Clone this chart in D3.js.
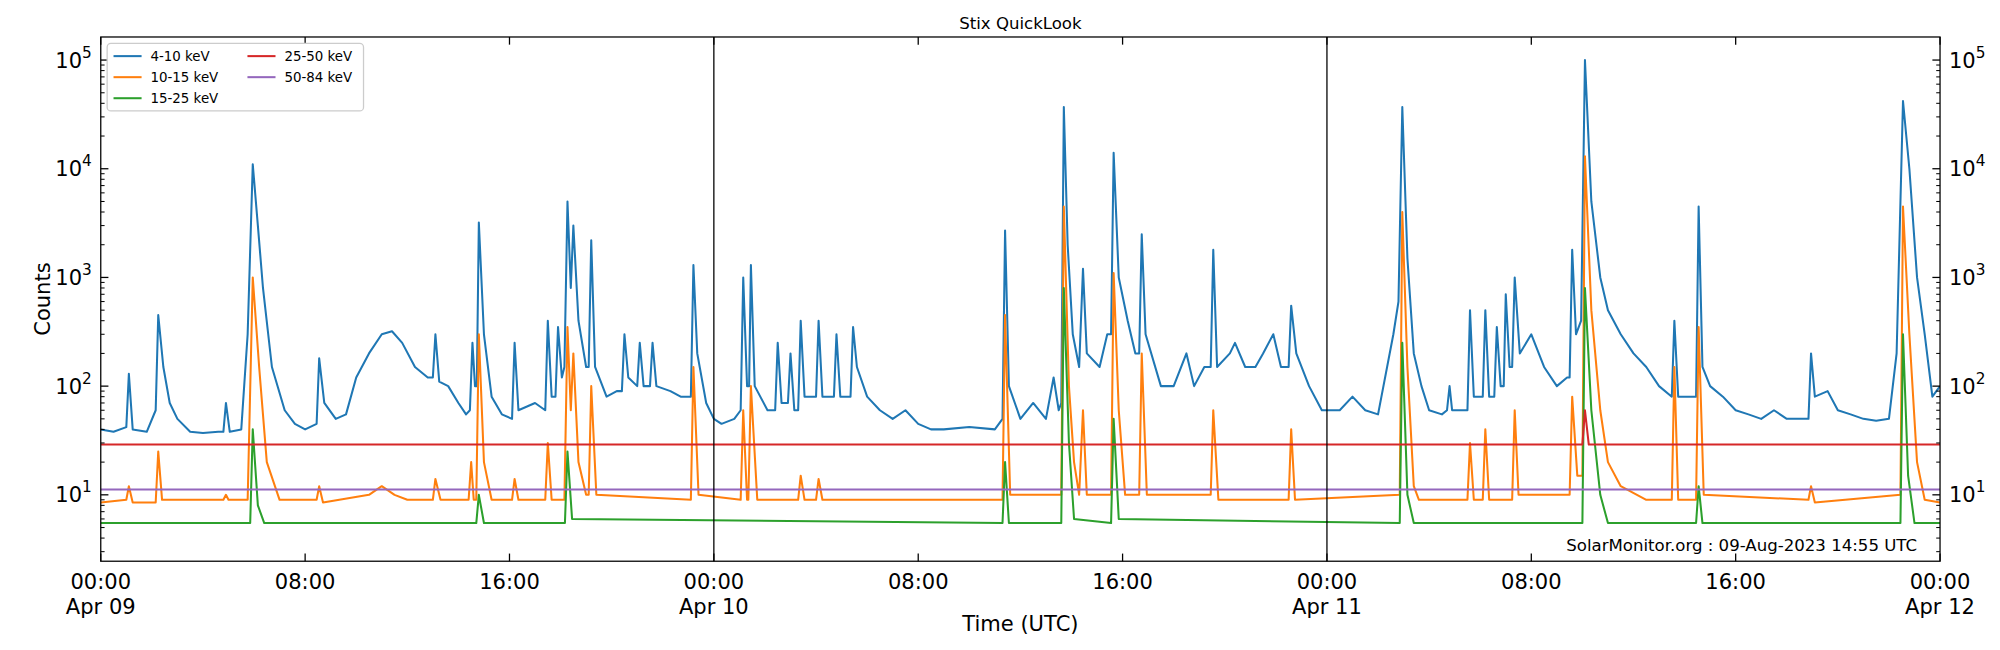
<!DOCTYPE html>
<html><head><meta charset="utf-8">
<script src="https://cdn.jsdelivr.net/npm/d3@7"></script>
<style>body{margin:0;background:#fff;font-family:"DejaVu Sans",sans-serif}</style>
</head><body><svg id="c" width="2000" height="650"></svg>
<script>
// [hours since Apr 09 00:00, counts]
const s4_10 = [[0,40],[0.5,38],[1.0,42],[1.1,130],[1.25,40],[1.8,38],[2.15,60],[2.25,450],[2.45,150],[2.7,70],[3.0,50],[3.5,38],[4.0,37],[4.6,38],[4.8,38],[4.9,70],[5.05,38],[5.5,40],[5.75,300],[5.95,11000],[6.15,3000],[6.35,800],[6.7,150],[7.2,60],[7.6,45],[8.0,40],[8.45,45],[8.55,180],[8.75,70],[9.2,50],[9.6,55],[10.0,120],[10.5,200],[11.0,300],[11.4,320],[11.8,250],[12.3,150],[12.8,120],[13.0,120],[13.1,300],[13.25,110],[13.6,100],[14.0,70],[14.3,55],[14.45,60],[14.55,250],[14.65,100],[14.72,100],[14.8,3200],[15.0,300],[15.3,80],[15.7,55],[16.1,50],[16.2,250],[16.35,60],[17.0,70],[17.4,60],[17.5,400],[17.65,80],[17.8,80],[17.9,350],[18.05,120],[18.15,150],[18.27,5000],[18.4,800],[18.5,3000],[18.7,400],[19.0,150],[19.1,150],[19.2,2200],[19.35,150],[19.8,80],[20.2,90],[20.4,90],[20.5,300],[20.65,120],[21.0,100],[21.1,250],[21.25,100],[21.5,100],[21.6,250],[21.75,100],[22.3,90],[22.7,80],[23.1,80],[23.2,1300],[23.35,200],[23.7,70],[24.0,50],[24.3,45],[24.8,50],[25.05,60],[25.15,1000],[25.3,100],[25.38,100],[25.45,1300],[25.6,100],[26.1,60],[26.4,60],[26.5,250],[26.65,70],[26.9,70],[27.0,200],[27.15,60],[27.3,60],[27.4,400],[27.55,80],[28.0,80],[28.1,400],[28.25,80],[28.7,80],[28.8,300],[28.95,80],[29.35,80],[29.45,350],[29.6,150],[30.0,80],[30.5,60],[31.0,50],[31.5,60],[32.0,45],[32.5,40],[33.0,40],[34.0,42],[35.0,40],[35.3,50],[35.4,2700],[35.55,100],[36.0,50],[36.5,70],[37.0,50],[37.3,120],[37.5,60],[37.6,70],[37.7,37000],[37.85,2000],[38.05,300],[38.3,150],[38.45,1200],[38.6,200],[39.1,150],[39.4,300],[39.55,300],[39.65,14000],[39.85,1000],[40.2,400],[40.5,200],[40.65,200],[40.75,2500],[40.9,300],[41.5,100],[42.0,100],[42.5,200],[42.8,100],[43.2,150],[43.45,150],[43.55,1800],[43.7,150],[44.2,200],[44.4,250],[44.8,150],[45.2,150],[45.5,200],[45.9,300],[46.2,150],[46.5,150],[46.6,550],[46.8,200],[47.3,100],[47.8,60],[48.0,60],[48.5,60],[49.0,80],[49.5,60],[50.0,55],[50.6,300],[50.8,600],[50.95,37000],[51.15,1500],[51.4,200],[51.7,100],[52.0,60],[52.5,55],[52.7,60],[52.8,100],[52.9,60],[53.5,60],[53.6,500],[53.75,80],[54.1,80],[54.2,500],[54.35,80],[54.55,80],[54.65,350],[54.8,100],[54.92,100],[55.0,700],[55.15,150],[55.25,150],[55.35,1000],[55.55,200],[56.0,300],[56.5,150],[57.0,100],[57.4,120],[57.5,120],[57.6,1800],[57.75,300],[57.95,400],[58.1,100000],[58.35,5000],[58.7,1000],[59.0,500],[59.5,300],[60.0,200],[60.5,150],[61.0,100],[61.5,80],[61.6,400],[61.75,80],[62.45,80],[62.55,4500],[62.7,150],[63.0,100],[63.5,80],[64.0,60],[64.5,55],[65.0,50],[65.5,60],[66.0,50],[66.5,50],[66.85,50],[66.95,200],[67.1,80],[67.6,90],[68.0,60],[68.5,55],[69.0,50],[69.5,48],[70.0,50],[70.3,200],[70.55,42000],[70.8,10000],[71.1,1000],[71.4,300],[71.7,80],[72,100]];
const s10_15 = [[0,8.5],[1.0,9],[1.1,12],[1.25,8.5],[2.15,8.5],[2.25,25],[2.4,9],[4.8,9],[4.9,10],[5.0,9],[5.75,9],[5.95,1000],[6.2,150],[6.5,20],[7.0,9],[8.45,9],[8.55,12],[8.7,8.5],[10.5,10],[11,12],[11.5,10],[12,9],[13.0,9],[13.1,14],[13.3,9],[14.4,9],[14.5,20],[14.6,9],[14.7,9],[14.8,300],[15.0,20],[15.3,9],[16.1,9],[16.2,14],[16.35,9],[17.4,9],[17.5,30],[17.65,9],[18.15,9],[18.27,350],[18.4,60],[18.5,200],[18.7,20],[19.0,10],[19.1,10],[19.2,100],[19.4,10],[23.1,9],[23.2,150],[23.4,10],[25.05,9],[25.15,60],[25.3,9],[25.35,9],[25.45,100],[25.7,9],[27.3,9],[27.4,15],[27.55,9],[28.0,9],[28.1,14],[28.25,9],[35.3,9],[35.4,450],[35.6,10],[37.6,10],[37.7,4500],[37.9,100],[38.1,20],[38.3,10],[38.45,60],[38.6,10],[39.55,10],[39.65,1100],[39.85,60],[40.1,10],[40.65,10],[40.75,200],[40.95,10],[43.45,10],[43.55,60],[43.75,9],[46.5,9],[46.6,40],[46.75,9],[50.85,10],[50.95,4000],[51.15,150],[51.4,12],[51.6,9],[53.5,9],[53.6,30],[53.75,9],[54.1,9],[54.2,40],[54.35,9],[55.25,9],[55.35,60],[55.5,10],[57.5,10],[57.6,80],[57.8,15],[58.0,15],[58.1,13000],[58.35,500],[58.7,60],[59.0,20],[59.5,12],[60.5,9],[61.5,9],[61.6,150],[61.75,9],[62.45,9],[62.55,350],[62.75,10],[66.85,9],[66.95,12],[67.1,8.5],[70.45,10],[70.55,4500],[70.8,300],[71.1,20],[71.4,9],[72,8.5]];
const s15_25 = [[0,5.5],[5.85,5.5],[5.95,40],[6.15,8],[6.4,5.5],[14.7,5.5],[14.8,10],[15.0,5.5],[18.17,5.5],[18.27,25],[18.45,6],[35.3,5.5],[35.4,20],[35.55,5.5],[37.6,5.5],[37.7,800],[37.9,30],[38.1,6],[39.55,5.5],[39.65,50],[39.85,6],[50.85,5.5],[50.95,250],[51.15,10],[51.4,5.5],[58.0,5.5],[58.1,800],[58.35,60],[58.7,10],[59.0,5.5],[62.45,5.5],[62.55,12],[62.7,5.5],[70.45,5.5],[70.55,300],[70.75,15],[71.0,5.5],[72,5.5]];
const s25_50 = [[0,29],[58.0,29],[58.1,60],[58.25,29],[72,29]];
const s50_84 = [[0,11.2],[72,11.2]];
const seriesNames = ["4-10 keV","10-15 keV","15-25 keV","25-50 keV","50-84 keV"];
const seriesData = [s4_10,s10_15,s15_25,s25_50,s50_84];
const colors = ["#1f77b4","#ff7f0e","#2ca02c","#d62728","#9467bd"];
const xTickHours = [0,8,16,24,32,40,48,56,64,72];
const xTickLabels = ["00:00\nApr 09","08:00","16:00","00:00\nApr 10","08:00","16:00","00:00\nApr 11","08:00","16:00","00:00\nApr 12"];
const yTicks = [10,100,1000,10000,100000];

const root = d3.select("#c");
const svg = root.append("g").attr("transform","scale(1.2755)");
const L=79,R=1521,T=29,B=440;
const x = d3.scaleLinear().domain([0,72]).range([L,R]);
const y = d3.scaleLog().domain([2.45,163000]).range([B,T]);
svg.append("text").attr("x",(L+R)/2).attr("y",23).attr("text-anchor","middle").attr("font-size",13).text("Stix QuickLook");

root.append("clipPath").attr("id","cp").append("rect").attr("x",L).attr("y",T).attr("width",R-L).attr("height",B-T);
const line = d3.line().x(d=>x(d[0])).y(d=>y(d[1]));
seriesData.forEach((s,i)=>{
  svg.append("path").attr("d",line(s)).attr("fill","none").attr("stroke",colors[i]).attr("stroke-width",1.6).attr("stroke-linejoin","round").attr("clip-path","url(#cp)");
});
[24,48].forEach(h=>svg.append("line").attr("x1",x(h)).attr("x2",x(h)).attr("y1",T).attr("y2",B).attr("stroke","#000").attr("stroke-width",1));
svg.append("rect").attr("x",L).attr("y",T).attr("width",R-L).attr("height",B-T).attr("fill","none").attr("stroke","#000").attr("stroke-width",1);

xTickHours.forEach((h,i)=>{
  const xx=x(h);
  svg.append("line").attr("x1",xx).attr("x2",xx).attr("y1",B).attr("y2",B-6).attr("stroke","#000");
  svg.append("line").attr("x1",xx).attr("x2",xx).attr("y1",T).attr("y2",T+6).attr("stroke","#000");
  const parts=xTickLabels[i].split("\n");
  parts.forEach((p,j)=>svg.append("text").attr("x",xx).attr("y",B+22+j*19).attr("text-anchor","middle").attr("font-size",16.5).text(p));
});
const minors=[];
for(let e=0;e<6;e++)for(let m=2;m<10;m++){const v=m*Math.pow(10,e);if(v>2.45&&v<163000)minors.push(v);}
minors.forEach(v=>{[[L,L+3],[R,R-3]].forEach(a=>svg.append("line").attr("x1",a[0]).attr("x2",a[1]).attr("y1",y(v)).attr("y2",y(v)).attr("stroke","#000").attr("stroke-width",0.8));});
yTicks.forEach(v=>{
  const yy=y(v), e=Math.round(Math.log10(v));
  [[L,L+6],[R,R-6]].forEach(a=>svg.append("line").attr("x1",a[0]).attr("x2",a[1]).attr("y1",yy).attr("y2",yy).attr("stroke","#000"));
  [[L-7,"end"],[R+7,"start"]].forEach(a=>{
    const t=svg.append("text").attr("x",a[0]).attr("y",yy+6).attr("text-anchor",a[1]).attr("font-size",16.5);
    t.append("tspan").text("10");
    t.append("tspan").attr("font-size",12).attr("dy",-8).text(e);
  });
});
svg.append("text").attr("x",(L+R)/2).attr("y",495).attr("text-anchor","middle").attr("font-size",16.5).text("Time (UTC)");
svg.append("text").attr("transform",`translate(39,${(T+B)/2}) rotate(-90)`).attr("text-anchor","middle").attr("font-size",16.5).text("Counts");
svg.append("text").attr("x",R-18).attr("y",432).attr("text-anchor","end").attr("font-size",13).text("SolarMonitor.org : 09-Aug-2023 14:55 UTC");

const lg=svg.append("g");
lg.append("rect").attr("x",84).attr("y",34).attr("width",201).attr("height",53).attr("rx",3).attr("fill","#fff").attr("stroke","#ccc");
seriesNames.forEach((n,i)=>{
  const col=i<3?0:1,row=i<3?i:i-3;
  const lx=89+col*105, ly=44+row*16.5;
  lg.append("line").attr("x1",lx).attr("x2",lx+22).attr("y1",ly).attr("y2",ly).attr("stroke",colors[i]).attr("stroke-width",1.6);
  lg.append("text").attr("x",lx+29).attr("y",ly+4).attr("font-size",10.5).text(n);
});
</script></body></html>
